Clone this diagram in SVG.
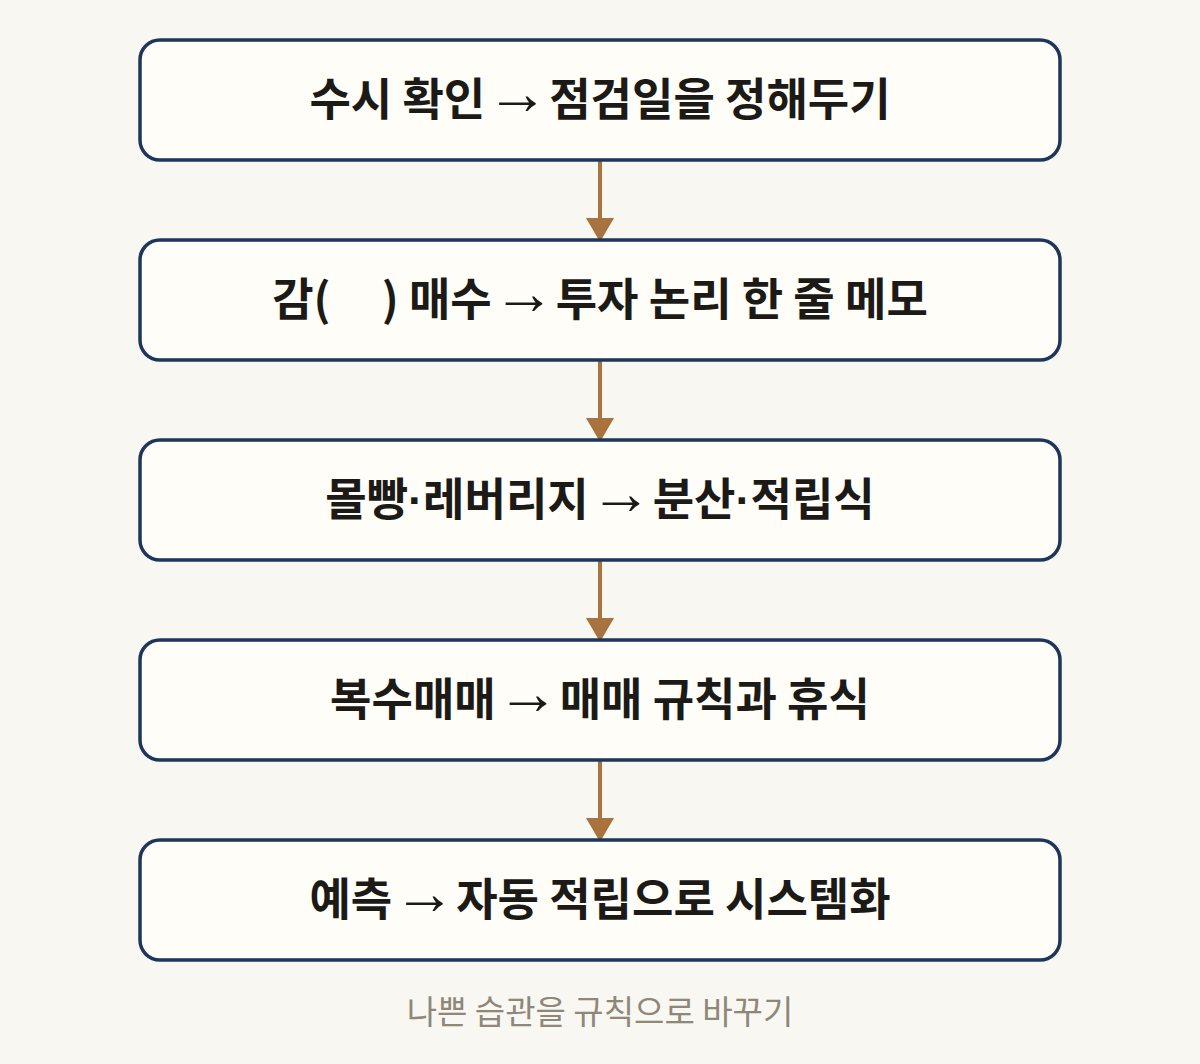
<svg xmlns="http://www.w3.org/2000/svg" width="1200" height="1064" viewBox="0 0 1200 1064">
<style>
.box{fill:#fefdf8;stroke:#1d365a;stroke-width:3.5}
.t{font-family:"Noto Sans CJK KR","Noto Sans",sans-serif;font-weight:700;font-size:45px;fill:#1c1a17;text-anchor:middle;white-space:pre}
.a{font-family:"Liberation Sans","DejaVu Sans",sans-serif;font-weight:400;font-size:62px}
.d{font-family:"Liberation Sans","DejaVu Sans",sans-serif;font-weight:700}
.c{font-family:"Noto Sans CJK KR","Noto Sans",sans-serif;font-weight:400;font-size:33px;fill:#8e877a;text-anchor:middle}
.ln{stroke:#a8733e;stroke-width:4;fill:none}
.hd{fill:#a8733e}
</style>
<rect width="1200" height="1064" fill="#f9f7f1"/>
<g id="connectors">
<line class="ln" x1="600" y1="160" x2="600" y2="220"/><polygon class="hd" points="586,218 614,218 600,242"/>
<line class="ln" x1="600" y1="360" x2="600" y2="420"/><polygon class="hd" points="586,418 614,418 600,442"/>
<line class="ln" x1="600" y1="560" x2="600" y2="620"/><polygon class="hd" points="586,618 614,618 600,642"/>
<line class="ln" x1="600" y1="760" x2="600" y2="820"/><polygon class="hd" points="586,818 614,818 600,842"/>
</g>
<g id="n1"><rect class="box" x="140" y="40" width="920" height="120" rx="20"/><text class="t" x="600" y="116">수시 확인<tspan class="a" dx="1" dy="-2">→</tspan><tspan dx="1" dy="2">점검일을 정해두기</tspan></text></g>
<g id="n2"><rect class="box" x="140" y="240" width="920" height="120" rx="20"/><text class="t" x="600" y="316" xml:space="preserve">감(     ) 매수<tspan class="a" dx="1" dy="-2">→</tspan><tspan dx="1" dy="2">투자 논리 한 줄 메모</tspan></text></g>
<g id="n3"><rect class="box" x="140" y="440" width="920" height="120" rx="20"/><text class="t" x="600" y="516">몰빵<tspan class="d">·</tspan>레버리지<tspan class="a" dx="1" dy="-2">→</tspan><tspan dx="1" dy="2">분산</tspan><tspan class="d">·</tspan>적립식</text></g>
<g id="n4"><rect class="box" x="140" y="640" width="920" height="120" rx="20"/><text class="t" x="600" y="716">복수매매<tspan class="a" dx="1" dy="-2">→</tspan><tspan dx="1" dy="2">매매 규칙과 휴식</tspan></text></g>
<g id="n5"><rect class="box" x="140" y="840" width="920" height="120" rx="20"/><text class="t" x="600" y="916">예측<tspan class="a" dx="1" dy="-2">→</tspan><tspan dx="1" dy="2">자동 적립으로 시스템화</tspan></text></g>
<text class="c" x="600" y="1024">나쁜 습관을 규칙으로 바꾸기</text>
</svg>
